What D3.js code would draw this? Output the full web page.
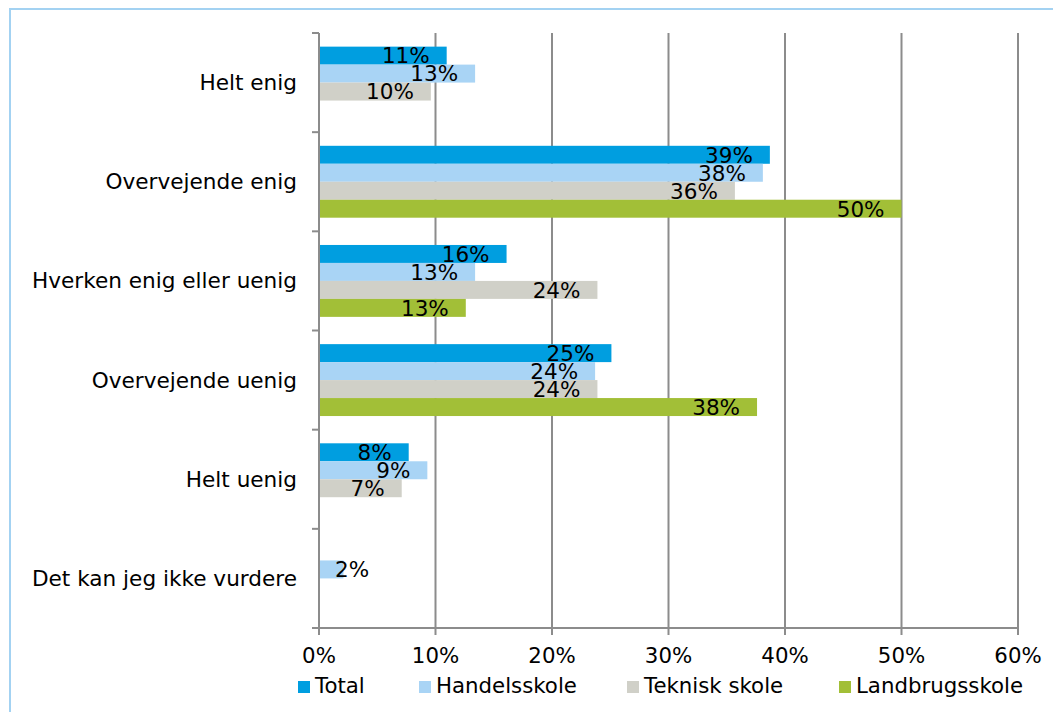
<!DOCTYPE html>
<html>
<head>
<meta charset="utf-8">
<script src="https://cdn.jsdelivr.net/npm/d3@7"></script>
<style>
  html, body { margin: 0; padding: 0; background: #fff; }
  svg { display: block; }
  text { font-family: "DejaVu Sans", Verdana, sans-serif; fill: #000; }
</style>
</head>
<body>
<svg id="chart" width="1053" height="712"></svg>
<script>
// ---- data ----
const categories = ["Helt enig", "Overvejende enig", "Hverken enig eller uenig", "Overvejende uenig", "Helt uenig", "Det kan jeg ikke vurdere"];
const seriesNames = ["Total", "Handelsskole", "Teknisk skole", "Landbrugsskole"];
const totalValues = [10.96, 38.7, 16.1, 25.1, 7.7, null];
const handelsValues = [13.4, 38.1, 13.4, 23.7, 9.3, 2.1];
const tekniskValues = [9.6, 35.7, 23.9, 23.9, 7.1, null];
const landbrugValues = [null, 50.0, 12.6, 37.6, null, null];
const seriesColors = ["#009ee0", "#a9d4f5", "#d0d0c8", "#a2bf37"];
const xTicks = [0, 10, 20, 30, 40, 50, 60];

const seriesValues = [totalValues, handelsValues, tekniskValues, landbrugValues];

(function draw() {
const svg = d3.select("#chart");

// outer border
svg.append("rect")
  .attr("x", 10).attr("y", 9).attr("width", 1060).attr("height", 720)
  .attr("fill", "none").attr("stroke", "#a3d2f2").attr("stroke-width", 2);

const pLeft = 319, pRight = 1018, pTop = 33, pBottom = 628;

const x = d3.scaleLinear().domain([0, 60]).range([pLeft, pRight]);
const y0 = d3.scaleBand().domain(categories).range([pTop, pBottom]).paddingInner(0.275).paddingOuter(0.1375);
const y1 = d3.scaleBand().domain(seriesNames).range([0, y0.bandwidth()]);

const gridColor = "#8c8c8c";

// vertical gridlines (+ tick marks below axis)
svg.append("g").selectAll("line").data(xTicks.slice(1)).join("line")
  .attr("x1", d => x(d)).attr("x2", d => x(d))
  .attr("y1", pTop).attr("y2", pBottom + 7)
  .attr("stroke", gridColor).attr("stroke-width", 2);

const flat = [];
categories.forEach((c, i) => {
  seriesNames.forEach((s, j) => {
    const v = seriesValues[j][i];
    if (v !== null && v !== undefined) flat.push({ c, s, j, v });
  });
});

// bars
svg.append("g").selectAll("rect").data(flat).join("rect")
  .attr("x", x(0))
  .attr("y", d => y0(d.c) + y1(d.s))
  .attr("width", d => x(d.v) - x(0))
  .attr("height", y1.bandwidth())
  .attr("fill", d => seriesColors[d.j]);

// y axis
svg.append("line").attr("x1", pLeft).attr("x2", pLeft).attr("y1", pTop).attr("y2", pBottom + 7)
  .attr("stroke", gridColor).attr("stroke-width", 2);
// y band boundary ticks
const yTickPos = categories.map((c, i) => pTop + i * y0.step()).concat([pBottom]);
svg.append("g").selectAll("line").data(yTickPos).join("line")
  .attr("x1", pLeft - 7).attr("x2", pLeft).attr("y1", d => d).attr("y2", d => d)
  .attr("stroke", gridColor).attr("stroke-width", 2);

// x axis
svg.append("line").attr("x1", pLeft - 7).attr("x2", pRight + 1).attr("y1", pBottom).attr("y2", pBottom)
  .attr("stroke", gridColor).attr("stroke-width", 2);

// x tick labels
svg.append("g").selectAll("text").data(xTicks).join("text")
  .attr("x", d => x(d)).attr("y", 663)
  .attr("text-anchor", "middle").attr("font-size", 21.3)
  .text(d => d + "%");

// category labels
svg.append("g").selectAll("text").data(categories).join("text")
  .attr("x", 297).attr("y", c => y0(c) + y0.bandwidth() / 2 + 7.5)
  .attr("text-anchor", "end").attr("font-size", 21.6)
  .text(c => c);

// data labels
const labels = svg.append("g").selectAll("text").data(flat).join("text")
  .attr("y", d => y0(d.c) + y1(d.s) + y1.bandwidth() / 2 + 7.8)
  .attr("text-anchor", "end").attr("font-size", 21.5)
  .text(d => Math.round(d.v) + "%");
labels.each(function(d) {
  const w = this.getComputedTextLength();
  const xe = Math.max(x(d.v) - 17, x(0) + 16 + w);
  d3.select(this).attr("x", xe);
});

// legend
const legendX = [298, 419, 627, 839];
const leg = svg.append("g").selectAll("g").data(seriesNames).join("g")
  .attr("transform", (d, i) => `translate(${legendX[i]},0)`);
leg.append("rect").attr("x", 0).attr("y", 681).attr("width", 12).attr("height", 12)
  .attr("fill", (d, i) => seriesColors[i]);
leg.append("text").attr("x", 17).attr("y", 693).attr("font-size", 21.3).text(d => d);
})();
</script>
</body>
</html>
